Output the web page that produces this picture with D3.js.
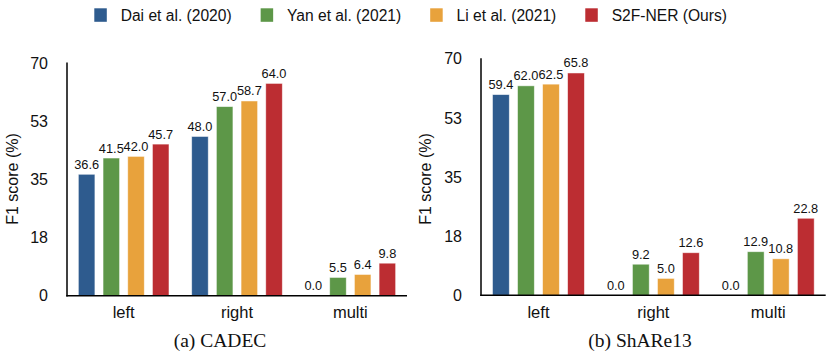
<!DOCTYPE html>
<html>
<head>
<meta charset="utf-8">
<script src="https://cdn.jsdelivr.net/npm/d3@7"></script>
<style>
  body { margin: 0; background: #fff; }
  svg { display: block; font-family: "Liberation Sans", Arial, sans-serif; }
</style>
</head>
<body>
<svg id="chart" width="831" height="356"></svg>
<script>
var groups = ["left", "right", "multi"];
var methods = ["Dai et al. (2020)", "Yan et al. (2021)", "Li et al. (2021)", "S2F-NER (Ours)"];
var colors = ["#2e5b8e", "#5d9748", "#e8a23c", "#bc2d32"];
// values per group, in method order
var cadecValues = [[36.6, 41.5, 42.0, 45.7], [48.0, 57.0, 58.7, 64.0], [0.0, 5.5, 6.4, 9.8]];
var shareValues = [[59.4, 62.0, 62.5, 65.8], [0.0, 9.2, 5.0, 12.6], [0.0, 12.9, 10.8, 22.8]];
var yTicks = [0, 17.5, 35, 52.5, 70];
var yTickLabels = ["0", "18", "35", "53", "70"];

var svg = d3.select("#chart");

function drawPanel(values, box, caption) {
  var g = svg.append("g");
  var x0 = d3.scaleBand().domain(groups).range([box.left, box.right]).padding(0);
  var x1 = d3.scaleBand().domain(methods).range([0, x0.bandwidth()])
    .paddingInner(0.33).paddingOuter(0.46);
  var y = d3.scaleLinear().domain([0, 70]).range([box.bottom, box.top]);

  var rows = [];
  groups.forEach(function(grp, i) {
    methods.forEach(function(m, j) {
      rows.push({group: grp, method: m, value: values[i][j], color: colors[j]});
    });
  });

  g.selectAll("rect.bar").data(rows).enter().append("rect")
    .attr("class", "bar")
    .attr("x", function(d) { return x0(d.group) + x1(d.method); })
    .attr("y", function(d) { return y(d.value); })
    .attr("width", x1.bandwidth())
    .attr("height", function(d) { return y(0) - y(d.value); })
    .attr("fill", function(d) { return d.color; })
    .attr("stroke", "rgba(255,255,255,0.6)")
    .attr("stroke-width", 0.8);

  g.selectAll("text.val").data(rows).enter().append("text")
    .attr("class", "val")
    .attr("x", function(d) { return x0(d.group) + x1(d.method) + x1.bandwidth() / 2; })
    .attr("y", function(d) { return y(d.value) - 5.5; })
    .attr("text-anchor", "middle")
    .attr("font-size", "12.8px")
    .attr("fill", "#111")
    .text(function(d) { return d.value.toFixed(1); });

  // y axis (no tick marks)
  var yAxis = d3.axisLeft(y).tickValues(yTicks).tickSize(0).tickPadding(19)
    .tickFormat(function(d, i) { return yTickLabels[i]; });
  var ya = g.append("g").attr("transform", "translate(" + box.left + ",0)").call(yAxis);
  ya.select(".domain").remove();
  ya.selectAll("text").attr("font-size", "16px").attr("font-family", "Liberation Sans, Arial, sans-serif").attr("fill", "#111");

  var xAxis = d3.axisBottom(x0).tickSize(0).tickPadding(11);
  var xa = g.append("g").attr("transform", "translate(0," + box.bottom + ")").call(xAxis);
  xa.select(".domain").remove();
  xa.selectAll("text").attr("font-size", "16.5px").attr("font-family", "Liberation Sans, Arial, sans-serif").attr("fill", "#111");

  g.append("line").attr("x1", box.left).attr("x2", box.left)
    .attr("y1", box.axisTop).attr("y2", box.bottom + 0.75)
    .attr("stroke", "#000").attr("stroke-width", 1.5);
  g.append("line").attr("x1", box.left - 0.75).attr("x2", box.right)
    .attr("y1", box.bottom).attr("y2", box.bottom)
    .attr("stroke", "#000").attr("stroke-width", 1.5);

  g.append("text")
    .attr("transform", "translate(" + box.yLabelX + "," + 179 + ") rotate(-90)")
    .attr("text-anchor", "middle")
    .attr("dominant-baseline", "central")
    .attr("font-size", "16px")
    .attr("fill", "#111")
    .text("F1 score (%)");

  g.append("text")
    .attr("x", box.captionX).attr("y", 346.5)
    .attr("text-anchor", "middle")
    .attr("font-family", "Liberation Serif, Times New Roman, serif")
    .attr("font-size", "19.5px")
    .attr("fill", "#111")
    .text(caption);
}

drawPanel(cadecValues, {left: 67, right: 407, top: 63.5, bottom: 295.7, axisTop: 62.5, yLabelX: 12, captionX: 220}, "(a) CADEC");
drawPanel(shareValues, {left: 481, right: 825.7, top: 58.8, bottom: 295.3, axisTop: 58.3, yLabelX: 425.5, captionX: 640}, "(b) ShARe13");

// legend
var legend = svg.append("g");
var lx = 94.3;
methods.forEach(function(m, i) {
  legend.append("rect").attr("x", lx).attr("y", 8.3).attr("width", 12.5).attr("height", 13.5)
    .attr("fill", colors[i]);
  var t = legend.append("text").attr("x", lx + 26.4).attr("y", 20.5)
    .attr("font-size", "15.6px").attr("fill", "#111").text(m);
  lx = lx + 26.4 + t.node().getComputedTextLength() + 29;
});
</script>
</body>
</html>
